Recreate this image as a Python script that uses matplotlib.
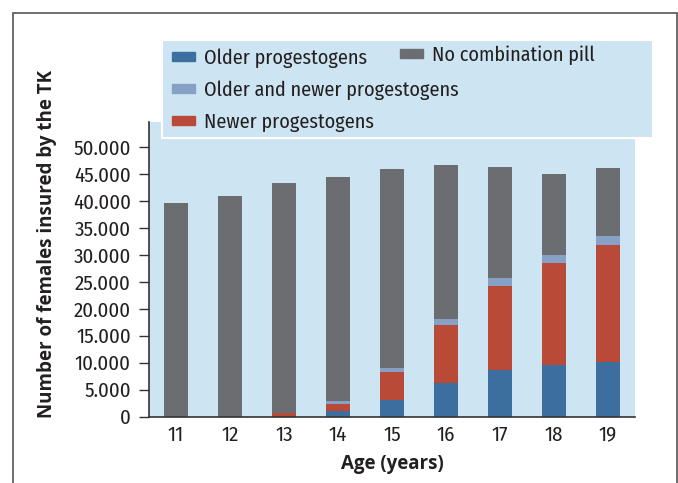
import matplotlib
matplotlib.use("Agg")
import matplotlib.pyplot as plt
import numpy as np
from matplotlib.patches import Rectangle, Patch
from matplotlib.font_manager import FontProperties

ages = ["11", "12", "13", "14", "15", "16", "17", "18", "19"]
older = [0, 0, 0, 1000, 3150, 6200, 8700, 9500, 10200]
newer = [0, 0, 600, 1300, 5100, 10800, 15500, 19000, 21600]
both = [0, 0, 0, 550, 700, 1100, 1500, 1500, 1700]
totals = [39600, 40900, 43300, 44400, 45900, 46700, 46300, 45000, 46100]
no_pill = [t - o - n - b for t, o, n, b in zip(totals, older, newer, both)]

series_labels = ["Older progestogens", "Older and newer progestogens",
                 "Newer progestogens", "No combination pill"]
yticks = [0, 5000, 10000, 15000, 20000, 25000, 30000, 35000, 40000, 45000, 50000]
ytick_labels = ["0", "5.000", "10.000", "15.000", "20.000", "25.000", "30.000",
                "35.000", "40.000", "45.000", "50.000"]

c_older = "#3D6EA0"
c_both = "#86A0C6"
c_newer = "#B94A37"
c_gray = "#6C6D71"
c_bg = "#CDE5F2"
c_text = "#231F20"

W, H = 678, 483
fig = plt.figure(figsize=(W / 100, H / 100), dpi=100)
fig.patch.set_facecolor("white")

def fp_narrow(size):
    return FontProperties(family=["Fira Sans Condensed", "DejaVu Sans"],
                          weight="normal", size=size)

def fp_bold(size):
    return FontProperties(family=["Open Sans", "DejaVu Sans"], stretch="normal",
                          weight="bold", size=size)

ax = fig.add_axes([149 / W, 1 - 416.7 / H, (635 - 149) / W, (416.7 - 122) / H])
ax.set_facecolor(c_bg)

x = np.arange(len(ages))
bw = 0.43
ax.bar(x, older, bw, color=c_older, zorder=2)
b1 = np.array(older)
ax.bar(x, newer, bw, bottom=b1, color=c_newer, zorder=2)
b2 = b1 + np.array(newer)
ax.bar(x, both, bw, bottom=b2, color=c_both, zorder=2)
b3 = b2 + np.array(both)
ax.bar(x, no_pill, bw, bottom=b3, color=c_gray, zorder=2)

ax.set_xlim(-0.5, len(ages) - 0.5)
ax.set_ylim(0, 54600)
ax.set_yticks(yticks)
ax.set_yticklabels(ytick_labels, fontproperties=fp_narrow(15), color=c_text)
ax.set_xticks(x)
ax.set_xticklabels(ages, fontproperties=fp_narrow(15), color=c_text)
ax.tick_params(axis="y", length=7, width=1, pad=6, color="#333333")
ax.tick_params(axis="x", length=0, pad=6)
for s in ["top", "right"]:
    ax.spines[s].set_visible(False)
for s in ["left", "bottom"]:
    ax.spines[s].set_color("#333333")
    ax.spines[s].set_linewidth(1.2)

ax.set_xlabel("Age (years)", fontproperties=fp_bold(13.5), labelpad=7, color=c_text)
fig.text(47 / W, 1 - 244 / H, "Number of females insured by the TK",
         fontproperties=fp_bold(13.5), rotation=90, ha="center", va="center",
         color=c_text)

# legend box
fig.patches.append(Rectangle((162 / W, 1 - 138 / H), (653 - 162) / W, (138 - 40) / H,
                             transform=fig.transFigure, facecolor=c_bg,
                             edgecolor="white", linewidth=1.5, zorder=3))
leg_kw = dict(loc="upper left", frameon=False, prop=fp_narrow(14.5), handlelength=1.15,
              handleheight=0.35, handletextpad=0.45, labelspacing=0.62,
              borderaxespad=0, borderpad=0)
h1 = [Patch(color=c_older), Patch(color=c_both), Patch(color=c_newer)]
leg1 = fig.legend(h1, series_labels[:3], bbox_to_anchor=(172 / W, 1 - 48 / H), **leg_kw)
leg2 = fig.legend([Patch(color=c_gray)], series_labels[3:],
                  bbox_to_anchor=(400 / W, 1 - 45 / H), **leg_kw)
for lg in (leg1, leg2):
    for t in lg.get_texts():
        t.set_color(c_text)
    lg.set_zorder(4)

# outer frame
fig.patches.append(Rectangle((13 / W, -0.05), (677 - 13) / W, 1.05 - 13 / H,
                             transform=fig.transFigure, facecolor="none",
                             edgecolor="#555555", linewidth=1.2, zorder=5))

fig.savefig("out.png", dpi=100)
